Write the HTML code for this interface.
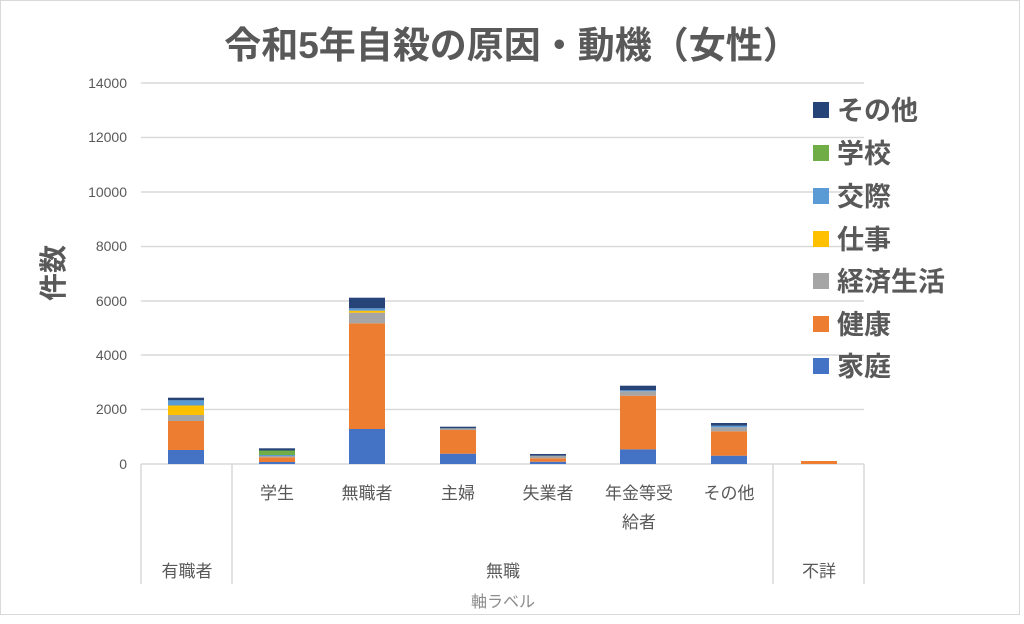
<!DOCTYPE html>
<html><head><meta charset="utf-8"><style>
html,body{margin:0;padding:0;background:#fff}
svg text{font-family:"Liberation Sans","Noto Sans CJK JP",sans-serif}
</style></head><body>
<svg width="1024" height="619" viewBox="0 0 1024 619" xmlns="http://www.w3.org/2000/svg">
<rect x="0.5" y="0.5" width="1019" height="614" fill="#fff" stroke="#d9d9d9"/>
<text x="512" y="58" text-anchor="middle" font-size="37" font-weight="bold" fill="#595959">令和5年自殺の原因・動機（女性）</text>
<g stroke="#d9d9d9" stroke-width="1.5">
<line x1="141" y1="83" x2="864" y2="83"/><line x1="141" y1="137.5" x2="864" y2="137.5"/>
<line x1="141" y1="192" x2="864" y2="192"/><line x1="141" y1="246.5" x2="864" y2="246.5"/>
<line x1="141" y1="301" x2="864" y2="301"/><line x1="141" y1="355" x2="864" y2="355"/>
<line x1="141" y1="409.5" x2="864" y2="409.5"/>
<line x1="141" y1="464" x2="864" y2="464"/>
<line x1="141" y1="464" x2="141" y2="584"/><line x1="232" y1="464" x2="232" y2="584"/>
<line x1="773" y1="464" x2="773" y2="584"/><line x1="864" y1="464" x2="864" y2="584"/>
</g>
<g font-size="14" fill="#595959" text-anchor="end">
<text x="127" y="88">14000</text><text x="127" y="142">12000</text><text x="127" y="197">10000</text>
<text x="127" y="251">8000</text><text x="127" y="306">6000</text><text x="127" y="360">4000</text>
<text x="127" y="414">2000</text><text x="127" y="469">0</text>
</g>
<text transform="translate(63,273) rotate(-90)" text-anchor="middle" font-size="28" font-weight="bold" fill="#595959">件数</text>
<g>
<rect x="168" y="450" width="36" height="14" fill="#4472c4"/>
<rect x="168" y="421" width="36" height="29" fill="#ed7d31"/>
<rect x="168" y="415" width="36" height="6" fill="#a5a5a5"/>
<rect x="168" y="405.5" width="36" height="9.5" fill="#ffc000"/>
<rect x="168" y="400.3" width="36" height="5.2" fill="#5b9bd5"/>
<rect x="168" y="397.7" width="36" height="2.6" fill="#264478"/>
<rect x="259" y="462" width="36" height="2" fill="#4472c4"/>
<rect x="259" y="457.3" width="36" height="4.7" fill="#ed7d31"/>
<rect x="259" y="456" width="36" height="1.3" fill="#a5a5a5"/>
<rect x="259" y="455" width="36" height="1" fill="#5b9bd5"/>
<rect x="259" y="450.5" width="36" height="4.5" fill="#70ad47"/>
<rect x="259" y="448.3" width="36" height="2.2" fill="#264478"/>
<rect x="349" y="429" width="36" height="35" fill="#4472c4"/>
<rect x="349" y="323.3" width="36" height="105.7" fill="#ed7d31"/>
<rect x="349" y="312.7" width="36" height="10.6" fill="#a5a5a5"/>
<rect x="349" y="310.7" width="36" height="2" fill="#ffc000"/>
<rect x="349" y="308.3" width="36" height="2.4" fill="#5b9bd5"/>
<rect x="349" y="297.7" width="36" height="10.6" fill="#264478"/>
<rect x="440" y="453.7" width="36" height="10.3" fill="#4472c4"/>
<rect x="440" y="430" width="36" height="23.7" fill="#ed7d31"/>
<rect x="440" y="428.3" width="36" height="1.7" fill="#a5a5a5"/>
<rect x="440" y="426.7" width="36" height="1.6" fill="#264478"/>
<rect x="530" y="461.7" width="36" height="2.3" fill="#4472c4"/>
<rect x="530" y="458.3" width="36" height="3.4" fill="#ed7d31"/>
<rect x="530" y="455.7" width="36" height="2.6" fill="#a5a5a5"/>
<rect x="530" y="454" width="36" height="1.7" fill="#264478"/>
<rect x="620" y="449.3" width="36" height="14.7" fill="#4472c4"/>
<rect x="620" y="395.7" width="36" height="53.6" fill="#ed7d31"/>
<rect x="620" y="391.3" width="36" height="4.4" fill="#a5a5a5"/>
<rect x="620" y="390.3" width="36" height="1" fill="#5b9bd5"/>
<rect x="620" y="385.7" width="36" height="4.6" fill="#264478"/>
<rect x="711" y="455.7" width="36" height="8.3" fill="#4472c4"/>
<rect x="711" y="431.3" width="36" height="24.4" fill="#ed7d31"/>
<rect x="711" y="427.3" width="36" height="4" fill="#a5a5a5"/>
<rect x="711" y="425.7" width="36" height="1.6" fill="#5b9bd5"/>
<rect x="711" y="423" width="36" height="2.7" fill="#264478"/>
<rect x="801" y="461" width="36" height="3" fill="#ed7d31"/>
</g>
<g font-size="17" fill="#595959" text-anchor="middle">
<text x="277" y="499">学生</text><text x="367" y="499">無職者</text><text x="458" y="499">主婦</text>
<text x="548" y="499">失業者</text><text x="639" y="499">年金等受</text><text x="639" y="528">給者</text>
<text x="729" y="499">その他</text>
<text x="187" y="577">有職者</text><text x="503" y="577">無職</text><text x="819" y="577">不詳</text>
<text x="503" y="607" font-size="16" fill="#8c8c8c">軸ラベル</text>
</g>
<g font-size="27" font-weight="bold" fill="#595959">
<rect x="813" y="102" width="16" height="16" fill="#264478"/><text x="837" y="120">その他</text>
<rect x="813" y="145" width="16" height="16" fill="#70ad47"/><text x="837" y="163">学校</text>
<rect x="813" y="188" width="16" height="16" fill="#5b9bd5"/><text x="837" y="206">交際</text>
<rect x="813" y="231" width="16" height="16" fill="#ffc000"/><text x="837" y="249">仕事</text>
<rect x="813" y="273" width="16" height="16" fill="#a5a5a5"/><text x="837" y="291">経済生活</text>
<rect x="813" y="316" width="16" height="16" fill="#ed7d31"/><text x="837" y="334">健康</text>
<rect x="813" y="358" width="16" height="16" fill="#4472c4"/><text x="837" y="376">家庭</text>
</g>
</svg>
</body></html>
